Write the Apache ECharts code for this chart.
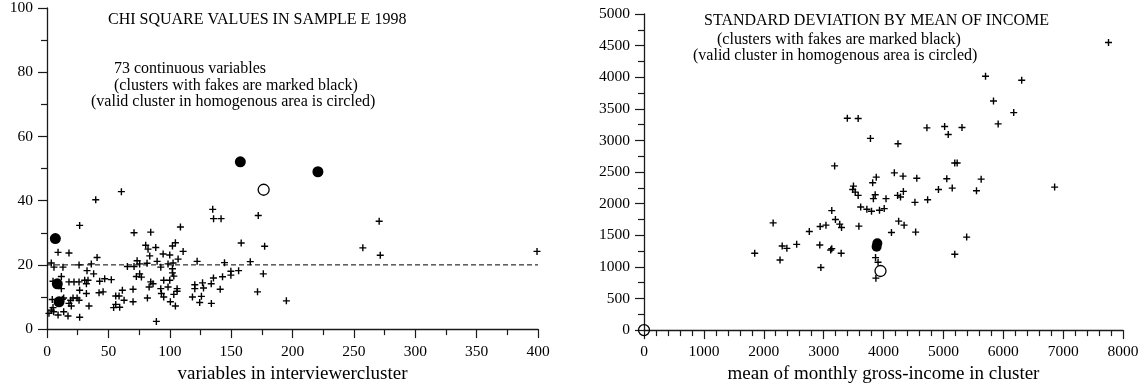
<!DOCTYPE html>
<html>
<head>
<meta charset="utf-8">
<script src="https://cdn.jsdelivr.net/npm/echarts@6/dist/echarts.min.js"></script>
<style>html,body{margin:0;padding:0;background:#fff;}#c{width:1146px;height:389px;}</style>
</head>
<body>
<div id="c"></div>
<script>
// ---------- LEFT CHART DATA (x: variables in interviewercluster, y: chi square) ----------
const chiPlus = [
  [60.6,42.8],[39.7,40.3],[26.6,32.3],[70.9,30.0],[84.5,30.2],[108.7,31.8],
  [9,23.9],[17.9,23.7],[40.8,22.3],[80.4,26.1],[82.3,24.9],[88.6,25.4],[83.7,22.8],[94.6,23.4],[100,23.1],[102.2,25.9],[104.6,26.9],[110.9,24.2],[106.8,21.8],[122.3,21.1],
  [3.5,20.6],[5.7,19.3],[13,19.3],[26.1,20.0],[36.1,20.3],[32.6,18.2],[38,17.2],[65.5,19.5],[70.9,19.5],[73.4,21.3],[75.5,20.3],[81.5,20.5],[89.7,21.1],[92.7,19.3],[98.6,20.3],[102.7,20.6],[102.2,18.8],[102.2,17.5],[103.3,16.5],[75.5,17.2],[72.8,16.4],[76.9,16.2],
  [11.7,16.4],[4.9,14.9],[17.9,14.7],[22,14.7],[26.1,14.7],[30.7,15.2],[33.4,15.2],[32.1,14.1],[42.9,14.9],[47,15.7],[52.4,15.4],[42.4,11.3],[45.7,11.6],[26.6,12.1],[32.1,11.1],[24.5,9.7],[21.2,9.7],[26.1,9.0],[19.3,9.0],[17.9,8.0],[19.8,7.2],[34.2,7.2],[4.3,9.2],[11.7,12.6],[12.5,9.3],[13.6,9.7],[4.9,6.7],[3.5,5.9],[1.6,4.9],[5.4,5.4],[9,4.4],[13.6,5.4],[17.1,4.1],[26.6,3.7],
  [56,10.3],[58.7,10.3],[61.4,12.1],[62.8,9.0],[56,7.7],[59.2,6.8],[54.3,6.7],[70.1,12.4],[70.1,8.5],[81.8,9.7],[84.5,14.7],[86.4,14.1],[83.2,13.1],[92.7,12.6],[95.1,15.2],[100,15.2],[93.2,11.1],[95.1,10.0],[98.6,13.1],[100.5,8.5],[104.6,7.2],[103.3,10.8],[106,11.8],[106,12.6],[89.1,2.4],[120.4,13.8],[120.4,12.6],[118.5,10.0],
  [135,37.3],[135.7,34.4],[141.8,34.4],[172.1,35.4],[158.2,26.8],[177.3,25.8],[257.3,25.3],[270.6,33.6],[271.5,23.0],[399.2,24.2],[144.6,20.7],[165.6,21.0],[149.8,18.0],[149.8,16.8],[156.1,18.2],[143.0,16.3],[135.6,15.9],[133.8,14.1],[126.7,14.4],[127.5,12.8],[141.1,12.4],[125.8,10.2],[124.4,8.3],[133.9,8.0],[176.2,17.2],[171.5,11.6],[195.0,8.8]
];
const chiFakes = [[6.8,28.2],[8.4,14.1],[9.8,8.5],[157.5,52.1],[220.7,49.0]];
const chiCircled = [[176.5,43.4]];
const chiThreshold = [[0,20],[400,20]];

// ---------- RIGHT CHART DATA (x: mean monthly gross income, y: standard deviation) ----------
const incPlus = [
  [7758,4550],[5704,4016],[6308,3953],[5837,3623],[6175,3440],[5915,3262],[3396,3351],[3577,3346],[4725,3199],[5021,3220],[5311,3204],[5081,3095],[3782,3032],[4242,2948],
  [3184,2597],[5190,2644],[5230,2644],[4181,2487],[4326,2435],[3879,2419],[4556,2403],[5057,2393],[5631,2388],[3819,2330],[3498,2278],[3486,2225],[3528,2183],[3577,2131],
  [3861,2141],[3831,2079],[4042,2079],[4235,2131],[4284,2105],[4332,2194],[4918,2225],[5148,2246],[5553,2204],[4737,2063],[4525,2021],[6858,2262],
  [3619,1948],[3722,1911],[3800,1880],[3933,1895],[4012,1922],[3136,1890],[2157,1696],[3197,1749],[3269,1676],[3299,1623],[2942,1639],[3039,1660],[2761,1560],[3589,1644],
  [4253,1723],[4344,1660],[4133,1545],[4537,1550],[5389,1471],[1849,1215],[2308,1330],[2386,1293],[2550,1356],[2936,1346],[3136,1288],[3118,1267],[3293,1215],
  [2272,1110],[2954,990],[5190,1199],[3867,1147],[3909,1073],[3873,822]
];
const incFakes = [[3885,1320],[3897,1375]];
const incCircled = [[3950,935],[0,0]];

// tick settings
const chiXTicks = {min:0, max:400, interval:50};
const chiYTicks = {min:0, max:100, interval:20};
const incXTicks = {min:0, max:8000, interval:1000};
const incYTicks = {min:0, max:5000, interval:500};

const FONT = '"Liberation Serif", "Times New Roman", serif';
const PLUS = 'path://M-0.7,-3.5H0.7V-0.7H3.5V0.7H0.7V3.5H-0.7V0.7H-3.5V-0.7H-0.7Z';

function axis(t, minorSplit, labelMargin, extra) {
  return Object.assign({
    type: 'value', min: t.min, max: t.max, interval: t.interval,
    axisLine: {show: true, onZero: false, lineStyle: {color: '#1a1a1a', width: 1.3}},
    axisTick: {show: true, length: 9, lineStyle: {color: '#1a1a1a', width: 1.2}},
    minorTick: {show: true, splitNumber: minorSplit, length: 6, lineStyle: {color: '#1a1a1a', width: 1.2}},
    splitLine: {show: false},
    axisLabel: {color: '#000', fontFamily: FONT, fontSize: 15.5, margin: labelMargin, formatter: v => String(v)},
    nameTextStyle: {color: '#000', fontFamily: FONT, fontSize: 19}
  }, extra || {});
}

const chart = echarts.init(document.getElementById('c'), null, {renderer: 'canvas'});

function txt(x, y, s, size) {
  return {type: 'text', left: x, top: y - size * 0.5, style: {text: s, fill: '#000', font: size + 'px ' + FONT}};
}

const solid = {color: '#000', opacity: 1};

chart.setOption({
  animation: false,
  backgroundColor: '#fff',
  grid: [
    {left: 47, right: 608, top: 7, bottom: 54, containLabel: false},
    {left: 644, right: 23, top: 14, bottom: 57, containLabel: false}
  ],
  xAxis: [
    axis(chiXTicks, 2, 15, {gridIndex: 0, name: 'variables in interviewercluster', nameLocation: 'middle', nameGap: 31}),
    axis(incXTicks, 5, 14, {gridIndex: 1, name: 'mean of monthly gross-income in cluster', nameLocation: 'middle', nameGap: 30})
  ],
  yAxis: [
    axis(chiYTicks, 2, 14, {gridIndex: 0}),
    axis(incYTicks, 2, 14, {gridIndex: 1})
  ],
  graphic: [
    txt(108, 19.5, 'CHI SQUARE VALUES IN SAMPLE E 1998', 16),
    txt(114, 68.5, '73 continuous variables', 16),
    txt(114, 85.5, '(clusters with fakes are marked black)', 16),
    txt(91, 101.5, '(valid cluster in homogenous area is circled)', 16),
    txt(704, 21, 'STANDARD DEVIATION BY MEAN OF INCOME', 16),
    txt(717, 40, '(clusters with fakes are marked black)', 16),
    txt(693, 56, '(valid cluster in homogenous area is circled)', 16)
  ],
  series: [
    {type: 'line', xAxisIndex: 0, yAxisIndex: 0, data: chiThreshold, symbol: 'none', silent: true,
     lineStyle: {color: '#000', width: 1, type: [5, 3]}},
    {type: 'scatter', xAxisIndex: 0, yAxisIndex: 0, data: chiPlus, symbol: PLUS, symbolSize: 7,
     itemStyle: solid},
    {type: 'scatter', xAxisIndex: 0, yAxisIndex: 0, data: chiFakes, symbol: 'circle', symbolSize: 11,
     itemStyle: solid},
    {type: 'scatter', xAxisIndex: 0, yAxisIndex: 0, data: chiCircled, symbol: 'circle', symbolSize: 11,
     itemStyle: {color: '#fff', borderColor: '#000', borderWidth: 1.3, opacity: 1}},
    {type: 'scatter', xAxisIndex: 1, yAxisIndex: 1, data: incPlus, symbol: PLUS, symbolSize: 7,
     itemStyle: solid},
    {type: 'scatter', xAxisIndex: 1, yAxisIndex: 1, data: incFakes, symbol: 'circle', symbolSize: 10,
     itemStyle: solid},
    {type: 'scatter', xAxisIndex: 1, yAxisIndex: 1, data: incCircled, symbol: 'circle', symbolSize: 11,
     itemStyle: {color: 'rgba(255,255,255,0)', borderColor: '#000', borderWidth: 1.3, opacity: 1}}
  ]
});
</script>
</body>
</html>
